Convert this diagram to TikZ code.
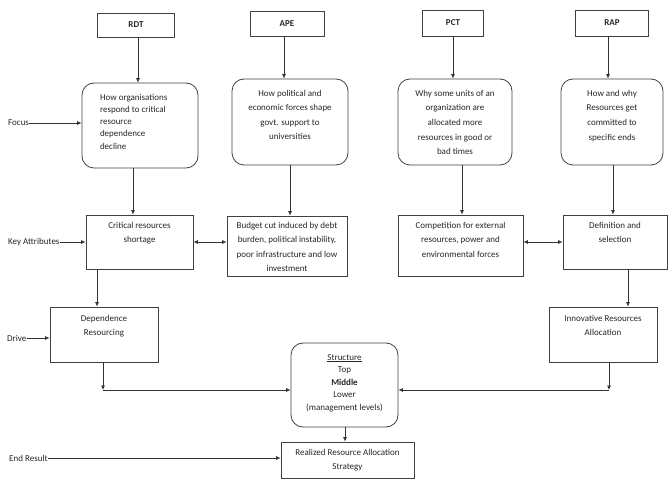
\documentclass[tikz,border=0pt]{standalone}
\usepackage{fontspec}
\setmainfont{Carlito}
\usetikzlibrary{arrows.meta}
\newcommand\tbx[5]{\parbox[c][#2pt][t]{#1pt}{\fontsize{9}{#4}\selectfont\vspace*{#3pt}\centering\strut #5\par}}
\begin{document}
\begin{tikzpicture}[x=1pt,y=-1pt,
  box/.style={draw=black!75,line width=0.8pt,inner sep=0pt,text=black!85,font=\fontsize{9}{14.5}\selectfont},
  rbox/.style={box,rounded corners=12pt},
  lbl/.style={inner sep=0pt,text=black!85,font=\fontsize{9}{11}\selectfont},
  arr/.style={draw=black!80,line width=0.7pt,-{Latex[length=4.5pt,width=4pt]}},
  darr/.style={draw=black!80,line width=0.7pt,{Latex[length=4.5pt,width=4pt]}-{Latex[length=4.5pt,width=4pt]}},
  ln/.style={draw=black!80,line width=0.7pt}]
\path[use as bounding box] (0,0) rectangle (672,486);
% top boxes
\node[box,minimum width=77pt,minimum height=24pt] (t1) at (136,25) {\bfseries RDT};
\node[box,minimum width=74pt,minimum height=25pt] (t2) at (287,24) {\bfseries APE};
\node[box,minimum width=61pt,minimum height=26pt] (t3) at (453,23) {\bfseries PCT};
\node[box,minimum width=73pt,minimum height=26pt] (t4) at (612,23) {\bfseries RAP};
% focus boxes
\node[rbox] (f1) at (140,125.5) {\parbox[c][85pt][t]{116pt}{\fontsize{9}{12.3}\selectfont\vspace*{8.4pt}\raggedright\leftskip=18pt\strut How organisations\\respond to critical\\resource\\dependence\\decline\par}};
\node[rbox] (f2) at (290,122) {\tbx{116}{86}{6.9}{14.5}{How political and\\economic forces shape\\govt. support to\\universities}};
\node[rbox] (f3) at (455,122) {\tbx{114}{86}{6.9}{14.7}{Why some units of an\\organization are\\allocated more\\resources in good or\\bad times}};
\node[rbox] (f4) at (612,122) {\tbx{102}{86}{6.9}{14.7}{How and why\\Resources get\\committed to\\specific ends}};
% key attributes
\node[box] (k1) at (139.5,242) {\tbx{107}{54}{3}{14.5}{Critical resources\\shortage}};
\node[box] (k2) at (287,246) {\tbx{120}{60}{1.9}{14.5}{Budget cut induced by debt\\burden, political instability,\\poor infrastructure and low\\investment}};
\node[box] (k3) at (460.5,245.5) {\tbx{125}{61}{2.9}{14.5}{Competition for external\\resources, power and\\environmental forces}};
\node[box] (k4) at (615,242) {\tbx{104}{54}{2.9}{14.5}{Definition and\\selection}};
% drive
\node[box] (d1) at (104,334.5) {\tbx{108}{55}{3.9}{14.5}{Dependence\\Resourcing}};
\node[box] (d2) at (603,334.5) {\tbx{108}{55}{3.9}{14.5}{Innovative Resources\\Allocation}};
% structure and result
\node[rbox] (s) at (344.5,385) {\parbox[c][84pt][t]{107pt}{\fontsize{9}{12.6}\selectfont\vspace*{8.2pt}\centering\strut\underline{Structure}\\Top\\\textbf{Middle}\\Lower\\(management levels)\par}};
\node[box] (r) at (347.5,460) {\tbx{133}{36}{3.9}{14}{Realized Resource Allocation\\Strategy}};
% side labels
\node[lbl,anchor=west] (lf) at (8,123) {Focus};
\node[lbl,anchor=west] (lk) at (8,242) {Key Attributes};
\node[lbl,anchor=west] (ld) at (7,338) {Drive};
\node[lbl,anchor=west] (le) at (9,458) {End Result};
\draw[arr] (lf.east) -- (lf.east -| f1.west);
\draw[arr] (lk.east) -- (lk.east -| k1.west);
\draw[arr] (ld.east) -- (ld.east -| d1.west);
\draw[arr] (le.east) -- (le.east -| r.west);
% vertical connectors
\coordinate (xa) at (138,0);
\coordinate (xb) at (284,0);
\coordinate (xc) at (453,0);
\coordinate (xd) at (608,0);
\coordinate (xe) at (133,0);
\coordinate (xf) at (290,0);
\coordinate (xg) at (462,0);
\coordinate (xh) at (613,0);
\coordinate (xi) at (97,0);
\coordinate (xj) at (628,0);
\coordinate (xk) at (345,0);
\draw[arr] (t1.south -| xa) -- (f1.north -| xa);
\draw[arr] (t2.south -| xb) -- (f2.north -| xb);
\draw[arr] (t3.south -| xc) -- (f3.north -| xc);
\draw[arr] (t4.south -| xd) -- (f4.north -| xd);
\draw[arr] (f1.south -| xe) -- (k1.north -| xe);
\draw[arr] (f2.south -| xf) -- (k2.north -| xf);
\draw[arr] (f3.south -| xg) -- (k3.north -| xg);
\draw[arr] (f4.south -| xh) -- (k4.north -| xh);
\draw[arr] (k1.south -| xi) -- (d1.north -| xi);
\draw[arr] (k4.south -| xj) -- (d2.north -| xj);
\draw[arr] (s.south -| xk) -- (r.north -| xk);
% horizontal double arrows
\coordinate (ya) at (0,242);
\draw[darr] (k1.east |- ya) -- (k2.west |- ya);
\draw[darr] (k3.east |- ya) -- (k4.west |- ya);
% to structure
\coordinate (c1) at (103,390);
\coordinate (c2) at (609,390);
\draw[arr] (d1.south -| c1) -- (c1);
\draw[arr] (c1) -- (c1 -| s.west);
\draw[arr] (d2.south -| c2) -- (c2);
\draw[arr] (c2) -- (c2 -| s.east);
\end{tikzpicture}
\end{document}
